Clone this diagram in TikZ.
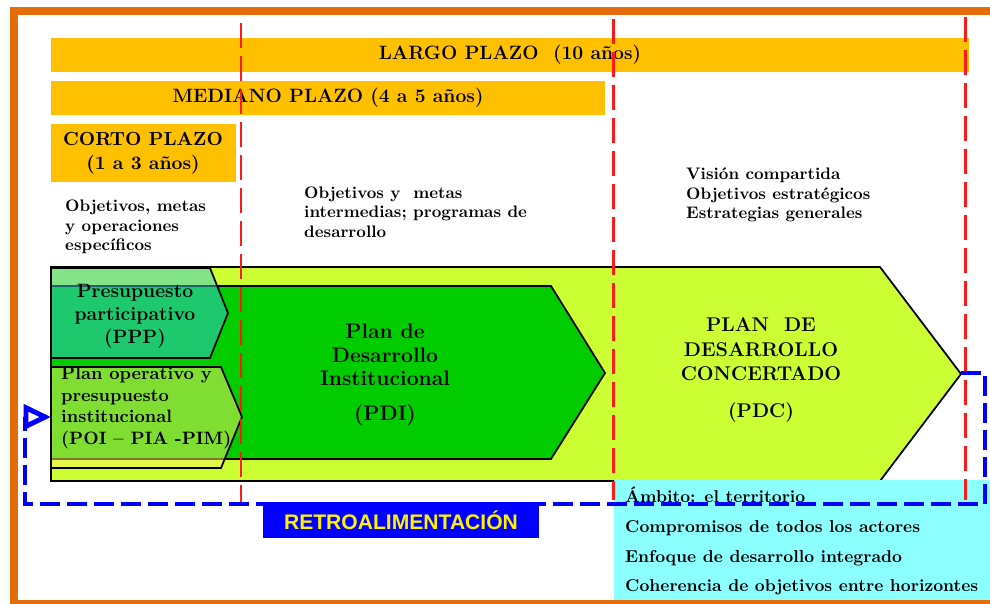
\documentclass[tikz,border=0pt]{standalone}
\usepackage{fontspec}
\newfontfamily\retrofont{Liberation Sans}
\usetikzlibrary{arrows.meta}
\definecolor{marco}{HTML}{E46C0A}
\definecolor{plazo}{HTML}{FFC000}
\definecolor{verdeclaro}{HTML}{CCFF33}
\definecolor{verdeosc}{HTML}{00CC00}
\definecolor{turquesa}{HTML}{3CC8DC}
\definecolor{amarillo}{HTML}{FFF064}
\definecolor{celeste}{HTML}{8CFFFF}
\definecolor{rojo}{HTML}{FF1A1A}
\definecolor{azul}{HTML}{0000FF}
\begin{document}
\begin{tikzpicture}[x=0.02cm, y=-0.02cm,
    titulo/.style={font=\bfseries\fontsize{11}{13}\selectfont, align=center},
    nota/.style={font=\bfseries\fontsize{9.5}{11}\selectfont, align=left, anchor=west},
    flecha/.style={draw=black, line width=1pt},
    corte/.style={rojo, line width=1.7pt, dash pattern=on 0.5cm off 0.16cm},
    retro/.style={azul, line width=2.8pt, dash pattern=on 0.4cm off 0.14cm}]
  \useasboundingbox (0,0) rectangle (990,604);
  \draw[marco, line width=4.5pt] (14,11) rectangle (1000,604);

  % horizontes
  \fill[plazo] (51,38) rectangle (969,72);
  \fill[plazo] (51,81) rectangle (605,115);
  \fill[plazo] (51,124) rectangle (236,182);
  \node[titulo] (largo) at (510,55) {LARGO PLAZO\ \ (10 años)};
  \node[titulo] (mediano) at (328,98) {MEDIANO PLAZO (4 a 5 años)};
  \node[titulo, font=\bfseries\fontsize{10.8}{13.5}\selectfont] (corto) at (143,153) {CORTO PLAZO\\(1 a 3 años)};

  \node[nota] (objcorto) at (59,227) {Objetivos, metas\\y operaciones\\específicos};
  \node[nota] (objmediano) at (298,212) {Objetivos y\ \ metas\\intermedias; programas de\\desarrollo};
  \node[nota] (objlargo) at (680,195) {Visión compartida\\Objetivos estratégicos\\Estrategias generales};

  % planes
  \filldraw[flecha, fill=verdeclaro] (51,267) -- (880,267) -- (961,374) -- (880,481) -- (51,481) -- cycle;
  \filldraw[flecha, fill=verdeosc] (51,286) -- (551,286) -- (605,373) -- (551,459) -- (51,459) -- cycle;
  \filldraw[flecha, fill=turquesa, fill opacity=0.5] (51,268) -- (210,268) -- (228,313) -- (210,358) -- (51,358) -- cycle;
  \filldraw[flecha, fill=amarillo, fill opacity=0.5] (51,367) -- (221,367) -- (242,417) -- (221,468) -- (51,468) -- cycle;
  \coordinate (pdctip) at (961,373);
  \coordinate (poiin) at (51,417);

  \node[titulo, font=\bfseries\fontsize{11}{13}\selectfont] (ppp) at (135,316) {Presupuesto\\participativo\\(PPP)};
  \node[nota, font=\bfseries\fontsize{10.2}{12.2}\selectfont] (poi) at (55,408) {Plan operativo y\\presupuesto\\institucional\\(POI -- PIA -PIM)};
  \node[titulo, font=\bfseries\fontsize{12}{13.3}\selectfont] (pdi) at (385,375) {Plan de\\Desarrollo\\Institucional\\[6.5pt](PDI)};
  \node[titulo, font=\bfseries\fontsize{11.3}{14}\selectfont] (pdc) at (761,370) {PLAN\ \ DE\\DESARROLLO\\CONCERTADO\\[7pt](PDC)};

  % ambito
  \fill[celeste] (614,480) rectangle (1000,600);
  \node[nota, font=\bfseries\fontsize{9.8}{17}\selectfont] (ambito) at (619,541) {Ámbito: el territorio\\Compromisos de todos los actores\\Enfoque de desarrollo integrado\\Coherencia de objetivos entre horizontes};

  % cortes
  \draw[corte] (241,23) -- (241,505);
  \draw[corte] (613,19) -- (613,500);
  \draw[corte] (965,17) -- (965,500);

  % retroalimentacion
  \draw[retro, -{Triangle[open, length=0.55cm, width=0.5cm]}] (pdctip) -| (985,504) -| (25,417) -- (poiin);
  \node[fill=azul, minimum width=5.52cm, minimum height=0.72cm, text=yellow, font=\retrofont\bfseries\fontsize{12}{14}\selectfont] (retroal) at (401,520) {RETROALIMENTACIÓN};
\end{tikzpicture}
\end{document}
